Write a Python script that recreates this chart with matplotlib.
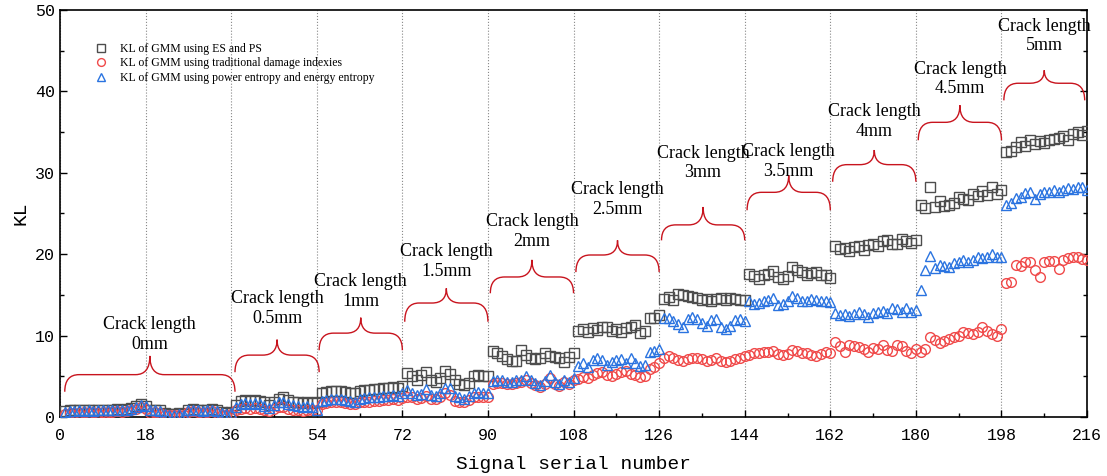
import numpy as np
import matplotlib
matplotlib.use("Agg")
import matplotlib.pyplot as plt
from matplotlib.path import Path
from matplotlib.patches import PathPatch
from matplotlib.ticker import MultipleLocator

# KL values, 18 signals per crack length
kl_es_ps = [
    0.7, 0.8, 0.8, 0.9, 0.8, 0.9, 0.8, 0.9, 0.8, 0.9, 0.9, 1.0, 0.9, 1.0, 1.1, 1.3, 1.6, 1.4,
    0.9, 0.9, 0.8, 0.5, 0.4, 0.4, 0.5, 0.4, 0.9, 1.0, 0.9, 0.8, 0.9, 1.0, 0.8, 0.6, 0.5, 0.6,
    1.5, 2.0, 2.1, 2.0, 2.1, 2.0, 1.8, 1.5, 1.9, 2.2, 2.4, 2.1, 1.9, 1.8, 1.7, 1.8, 1.7, 1.9,
    3.0, 3.1, 3.2, 3.2, 3.2, 3.1, 3.0, 2.9, 3.2, 3.3, 3.3, 3.4, 3.4, 3.5, 3.6, 3.7, 3.6, 3.8,
    5.4, 5.0, 4.6, 5.2, 5.5, 4.5, 4.3, 4.8, 5.6, 5.3, 4.6, 4.1, 3.9, 4.2, 5.0, 5.2, 5.0, 5.0,
    8.1, 7.9, 7.5, 7.1, 6.9, 6.9, 8.2, 7.6, 7.3, 7.1, 7.3, 7.8, 7.5, 7.4, 7.3, 6.8, 7.4, 7.8,
    10.6, 10.8, 10.5, 10.9, 10.7, 11.1, 11.0, 10.6, 10.8, 10.4, 10.9, 11.0, 11.3, 10.3, 10.6, 12.1, 12.2, 12.5,
    14.5, 14.8, 14.4, 15.1, 15.0, 14.9, 14.8, 14.6, 14.4, 14.5, 14.3, 14.5, 14.6, 14.4, 14.6, 14.5, 14.4, 14.4,
    17.6, 17.3, 17.0, 17.4, 17.6, 17.9, 17.2, 17.0, 17.3, 18.4, 18.1, 17.8, 17.5, 17.7, 17.8, 17.5, 17.4, 17.1,
    21.0, 20.6, 20.8, 20.4, 20.9, 21.0, 20.5, 21.1, 21.2, 21.0, 21.6, 21.8, 21.3, 21.2, 21.9, 21.6, 21.4, 21.7,
    26.0, 25.7, 28.2, 25.8, 26.5, 25.9, 26.1, 26.3, 27.0, 26.8, 26.6, 27.4, 27.2, 27.8, 27.3, 28.2, 27.4, 27.9,
    32.5, 32.7, 33.2, 33.8, 33.3, 34.0, 33.5, 33.9, 33.6, 34.0, 34.2, 34.3, 34.5, 34.0, 34.8, 35.0, 34.6, 35.1,
]
kl_traditional = [
    0.4, 0.5, 0.5, 0.5, 0.6, 0.5, 0.6, 0.5, 0.6, 0.6, 0.6, 0.7, 0.6, 0.7, 0.8, 1.0, 1.2, 1.0,
    0.5, 0.6, 0.5, 0.2, 0.2, 0.2, 0.3, 0.2, 0.6, 0.7, 0.6, 0.5, 0.6, 0.7, 0.5, 0.3, 0.3, 0.4,
    0.8, 1.0, 1.1, 1.0, 1.1, 1.0, 0.9, 0.7, 1.0, 1.2, 1.2, 1.0, 0.9, 0.8, 0.7, 0.8, 0.8, 0.9,
    1.6, 1.7, 1.8, 1.8, 1.8, 1.7, 1.6, 1.6, 1.8, 1.9, 1.9, 2.0, 2.0, 2.1, 2.1, 2.2, 2.1, 2.3,
    2.5, 2.4, 2.2, 2.3, 2.6, 2.2, 2.2, 2.4, 2.9, 2.7, 2.0, 1.9, 1.8, 2.1, 2.4, 2.5, 2.4, 2.4,
    4.1, 4.2, 4.2, 4.0, 4.0, 4.2, 4.3, 4.6, 4.2, 3.9, 3.7, 4.1, 4.8, 4.0, 3.8, 4.3, 4.0, 4.5,
    4.7, 4.9, 4.8, 5.2, 5.4, 5.5, 5.2, 5.0, 5.3, 5.5, 5.6, 5.3, 5.2, 4.9, 5.0, 5.9, 6.1, 6.6,
    7.2, 7.5, 7.3, 7.0, 6.9, 7.1, 7.3, 7.3, 7.1, 6.9, 7.0, 7.2, 6.9, 6.7, 6.9, 7.1, 7.3, 7.5,
    7.6, 7.8, 7.9, 8.0, 8.0, 8.1, 7.7, 7.6, 7.7, 8.2, 8.1, 7.9, 7.8, 7.6, 7.5, 7.7, 8.0, 7.9,
    9.2, 8.7, 8.0, 8.9, 8.7, 8.6, 8.3, 8.0, 8.5, 8.3, 8.8, 8.2, 8.1, 8.8, 8.7, 8.1, 7.9, 8.3,
    8.0, 8.3, 9.8, 9.5, 9.1, 9.3, 9.6, 9.8, 9.9, 10.4, 10.3, 10.2, 10.5, 11.0, 10.6, 10.2, 9.9, 10.8,
    16.5, 16.6, 18.7, 18.5, 19.0, 19.1, 18.0, 17.2, 19.0, 19.2, 19.2, 18.2, 19.3, 19.5, 19.6, 19.7, 19.4, 19.3,
]
kl_entropy = [
    0.6, 0.7, 0.7, 0.8, 0.7, 0.8, 0.7, 0.8, 0.8, 0.8, 0.8, 0.9, 0.8, 0.9, 1.0, 1.2, 1.5, 1.3,
    0.8, 0.8, 0.7, 0.4, 0.3, 0.3, 0.4, 0.3, 0.8, 0.9, 0.8, 0.7, 0.8, 0.9, 0.7, 0.5, 0.4, 0.5,
    1.2, 1.6, 1.7, 1.6, 1.7, 1.6, 1.3, 1.1, 1.5, 1.8, 1.9, 1.6, 1.5, 1.3, 1.2, 1.3, 1.2, 0.9,
    2.0, 2.1, 2.2, 2.2, 2.2, 2.1, 2.0, 1.9, 2.2, 2.3, 2.4, 2.4, 2.5, 2.6, 2.6, 2.7, 2.6, 2.9,
    3.3, 2.9, 2.7, 2.8, 3.4, 2.7, 2.6, 3.0, 3.6, 3.5, 2.6, 2.4, 2.2, 2.6, 3.0, 3.1, 3.0, 3.0,
    4.4, 4.5, 4.5, 4.3, 4.3, 4.5, 4.6, 5.0, 4.5, 4.2, 3.9, 4.4, 5.2, 4.3, 4.1, 4.6, 4.3, 4.8,
    6.3, 6.6, 6.2, 7.0, 7.3, 7.0, 6.4, 6.8, 7.0, 7.1, 6.6, 7.2, 6.6, 6.3, 6.4, 8.0, 8.1, 8.3,
    12.1, 12.2, 11.8, 11.4, 11.0, 12.0, 12.3, 12.0, 11.6, 11.2, 11.9, 12.0, 11.0, 10.8, 11.2, 11.9, 12.0, 11.8,
    14.3, 13.9, 14.0, 14.2, 14.4, 14.6, 13.8, 13.9, 14.2, 14.9, 14.6, 14.3, 14.2, 14.5, 14.4, 14.2, 14.3, 14.1,
    12.8, 12.5, 12.6, 12.4, 12.7, 12.9, 12.6, 12.3, 12.8, 12.9, 13.0, 12.8, 13.4, 13.3, 12.9, 13.4, 12.9, 13.1,
    15.6, 18.0, 19.8, 18.3, 18.7, 18.5, 18.4, 18.9, 19.0, 19.3, 19.1, 19.3, 19.7, 19.5, 19.6, 20.0, 19.7, 19.6,
    26.0, 26.3, 26.9, 27.0, 27.5, 27.6, 26.8, 27.4, 27.6, 27.6, 27.9, 27.6, 27.9, 28.1, 28.0, 28.3, 28.2, 27.9,
]
signal = np.arange(1, len(kl_es_ps) + 1)

# crack length groups: label, start, end, brace bottom / bar / tip, first text line y
crack_labels = ["0mm", "0.5mm", "1mm", "1.5mm", "2mm", "2.5mm",
                "3mm", "3.5mm", "4mm", "4.5mm", "5mm"]
group_start = [1, 36.8, 54.5, 72.5, 90.5, 108.5, 126.5, 144.5, 162.5, 180.5, 198.5]
group_end = [36.8, 54.5, 72, 90, 108, 126, 144, 162, 180, 198, 215.5]
brace_base = [3.1, 5.5, 8.2, 11.7, 15.2, 17.8, 21.7, 25.4, 28.9, 34.0, 38.9]
brace_bar = [5.2, 7.6, 10.3, 14.0, 17.2, 19.9, 23.6, 27.6, 31.0, 36.2, 41.0]
brace_tip = [7.5, 9.5, 12.2, 15.8, 19.3, 21.7, 25.8, 29.7, 32.8, 38.3, 42.6]
text_top = [11.5, 14.7, 16.8, 20.5, 24.2, 28.1, 32.6, 32.8, 37.7, 42.9, 48.2]

plt.rcParams["font.family"] = ["Liberation Serif", "DejaVu Serif"]
fig = plt.figure(figsize=(11.07, 4.76), dpi=100)
ax = fig.add_axes([0.0542, 0.124, 0.9278, 0.855])

ax.plot(signal, kl_es_ps, "s", ms=6.5, mfc="none", mec="#4d4d4d", mew=1.0,
        label="KL of GMM using ES and PS", zorder=3)
ax.plot(signal, kl_traditional, "o", ms=7, mfc="none", mec="#f04a4a", mew=1.0,
        label="KL of GMM using traditional damage indexies", zorder=3)
ax.plot(signal, kl_entropy, "^", ms=7.5, mfc="none", mec="#2a73e0", mew=1.0,
        label="KL of GMM using power entropy and energy entropy", zorder=3)

# curly braces and labels
for lab, x0, x1, yb, yh, yt, ty in zip(crack_labels, group_start, group_end,
                                        brace_base, brace_bar, brace_tip, text_top):
    xm = (x0 + x1) / 2
    d = 3.0
    verts = [(x0, yb), (x0, yh), (x0 + d, yh),
             (xm - d, yh),
             (xm, yh), (xm, yt),
             (xm, yh), (xm + d, yh),
             (x1 - d, yh),
             (x1, yh), (x1, yb)]
    codes = [Path.MOVETO, Path.CURVE3, Path.CURVE3,
             Path.LINETO,
             Path.CURVE3, Path.CURVE3,
             Path.CURVE3, Path.CURVE3,
             Path.LINETO,
             Path.CURVE3, Path.CURVE3]
    ax.add_patch(PathPatch(Path(verts, codes), fc="none", ec="#c8141e", lw=1.0, zorder=2))
    ax.text(xm, ty - 1.4, "Crack length\n" + lab, ha="center", va="center",
            fontsize=13, linespacing=1.2, zorder=4)

ax.set_xlim(0, 216)
ax.set_ylim(0, 50)
ax.xaxis.set_major_locator(MultipleLocator(18))
ax.xaxis.set_minor_locator(MultipleLocator(9))
ax.yaxis.set_major_locator(MultipleLocator(10))
ax.yaxis.set_minor_locator(MultipleLocator(5))
ax.grid(axis="x", which="major", color="#888888", ls=":", lw=0.8)
ax.tick_params(which="both", direction="in", right=True, width=1.0,
               labelsize=12)
ax.tick_params(axis="x", which="major", pad=8)
ax.tick_params(which="major", length=5)
ax.tick_params(which="minor", length=3)
for lbl in ax.get_xticklabels() + ax.get_yticklabels():
    lbl.set_family("Liberation Mono")
for sp in ax.spines.values():
    sp.set_linewidth(1.2)

ax.set_xlabel("Signal serial number", family="Liberation Mono", fontsize=14, labelpad=9)
ax.set_ylabel("KL", family="Liberation Mono", fontsize=14, labelpad=4)

ax.legend(loc="upper left", bbox_to_anchor=(0.018, 0.945), frameon=False,
          fontsize=8.5, handletextpad=0.6, labelspacing=0.2, markerscale=0.8)

fig.savefig("out.png", dpi=100)
